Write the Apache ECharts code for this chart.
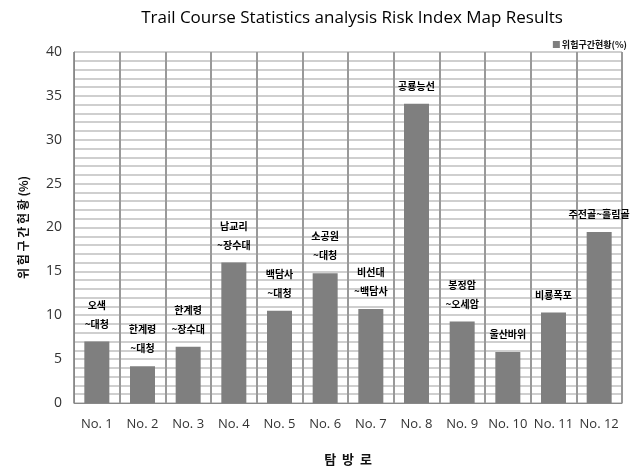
<!DOCTYPE html>
<html><head><meta charset="utf-8">
<script src="https://cdn.jsdelivr.net/npm/echarts@6/dist/echarts.min.js"></script>
<style>html,body{margin:0;padding:0;background:#fff}#c{width:634px;height:471px}</style>
</head><body><div id="c"></div>
<script>
const categories = ['No. 1','No. 2','No. 3','No. 4','No. 5','No. 6','No. 7','No. 8','No. 9','No. 10','No. 11','No. 12'];
const values = [7.0, 4.2, 6.4, 16.0, 10.5, 14.8, 10.7, 34.1, 9.3, 5.8, 10.3, 19.5];
const routeNames = ['오색\n~대청','한계령\n~대청','한계령\n~장수대','남교리\n~장수대','백담사\n~대청','소공원\n~대청','비선대\n~백담사','공룡능선','봉정암\n~오세암','울산바위','비룡폭포','주전골~흘림골'];
const seriesName = '위험구간현황(%)';
const yTicks = {min: 0, max: 40, interval: 5};

const kr = '"Noto Sans CJK KR", "Noto Sans", sans-serif';
const chart = echarts.init(document.getElementById('c'));
chart.setOption({
  animation: false,
  title: {
    text: 'Trail Course Statistics analysis Risk Index Map Results',
    left: 347, top: 5, textAlign: 'center',
    textStyle: {fontFamily: '"Open Sans", sans-serif', fontSize: 17, fontWeight: 'normal', color: '#000'}
  },
  legend: {
    right: 2, top: 35, itemWidth: 7, itemHeight: 7, itemGap: 2,
    textStyle: {fontFamily: kr, fontSize: 9, fontWeight: 'bold', color: '#111', padding: [0,0,0,-3]},
    data: [{name: seriesName, icon: 'rect'}]
  },
  grid: {left: 74, right: 12, top: 52, bottom: 68, show: true, borderColor: '#999', borderWidth: 1},
  xAxis: {
    type: 'category', data: categories,
    name: '탐  방  로', nameLocation: 'middle', nameGap: 50,
    nameTextStyle: {fontFamily: kr, fontSize: 13, fontWeight: 'bold', color: '#111'},
    axisLine: {lineStyle: {color: '#888', width: 1}},
    axisTick: {show: false},
    axisLabel: {fontFamily: '"Open Sans", sans-serif', fontSize: 13, color: '#333', margin: 15, interval: 0},
    splitLine: {show: true, lineStyle: {color: '#999', width: 2}}
  },
  yAxis: {
    type: 'value', min: yTicks.min, max: yTicks.max, interval: yTicks.interval,
    name: '위 험 구 간 현 황 (%)', nameLocation: 'middle', nameGap: 45, nameRotate: 90,
    nameTextStyle: {fontFamily: kr, fontSize: 12, fontWeight: 'bold', color: '#111'},
    axisLine: {show: true, lineStyle: {color: '#888', width: 1}},
    axisTick: {show: false},
    axisLabel: {fontFamily: '"Open Sans", sans-serif', fontSize: 14, color: '#333', margin: 12},
    splitLine: {show: true, lineStyle: {color: '#cfcfcf', width: 2}},
    minorTick: {show: false, splitNumber: 5},
    minorSplitLine: {show: true, lineStyle: {color: '#cfcfcf', width: 2}}
  },
  series: [{
    name: seriesName, type: 'bar', data: values, barWidth: 25,
    itemStyle: {color: '#7f7f7f'},
    label: {
      show: true, position: 'top', distance: 8,
      formatter: p => routeNames[p.dataIndex],
      fontFamily: kr, fontSize: 10, fontWeight: 'bold', color: '#000', lineHeight: 19
    }
  }]
});
</script></body></html>
